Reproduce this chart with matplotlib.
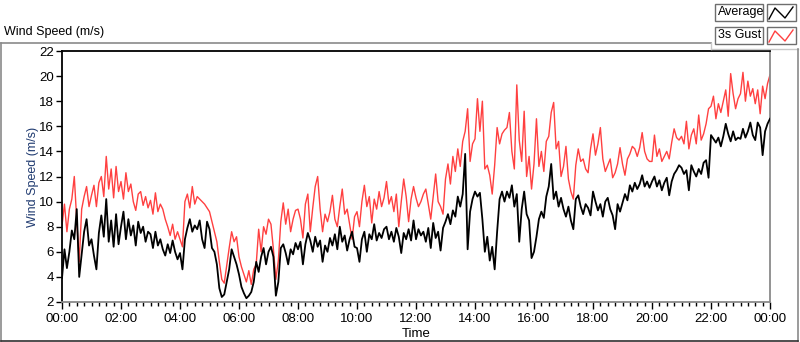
import numpy as np
import matplotlib
matplotlib.use("Agg")
import matplotlib.pyplot as plt
from matplotlib.lines import Line2D
from matplotlib.patches import Rectangle
from matplotlib.ticker import MultipleLocator
from matplotlib import font_manager

# ---------------- data (5-minute samples, 00:00 .. 24:00) ----------------
interval_min = 5

average = [
    # 00h
    3.9, 6.2, 4.7, 6.0, 7.7, 7.0, 9.4, 4.0, 5.8, 7.6, 8.6, 6.5,
    # 01h
    7.0, 5.7, 4.6, 7.5, 8.9, 7.2, 10.2, 6.8, 8.5, 6.4, 9.0, 6.6,
    # 02h
    8.0, 9.2, 7.0, 8.6, 7.3, 8.1, 6.5, 8.4, 7.5, 8.0, 6.8, 7.6,
    # 03h
    7.4, 6.3, 7.6, 6.5, 7.0, 6.2, 5.7, 6.6, 5.9, 6.9, 6.0, 5.4,
    # 04h
    5.9, 4.6, 7.0, 7.9, 8.6, 7.6, 8.1, 7.8, 8.5, 7.0, 6.3, 8.4,
    # 05h
    7.8, 6.3, 6.0, 5.0, 3.1, 2.4, 2.6, 3.6, 4.6, 6.2, 5.6, 5.0,
    # 06h
    4.2, 3.2, 2.7, 2.3, 2.5, 2.8, 3.6, 5.2, 4.4, 5.6, 6.3, 5.0,
    # 07h
    6.0, 6.4, 5.6, 2.5, 3.6, 6.3, 6.6, 5.9, 5.0, 6.2, 5.8, 6.7,
    # 08h
    6.2, 6.8, 5.0, 6.6, 7.5, 6.9, 6.0, 7.2, 6.4, 6.9, 5.2, 6.5,
    # 09h
    6.0, 7.1, 6.5, 7.4, 6.2, 8.0, 6.8, 7.3, 6.1, 7.0, 7.6, 6.4,
    # 10h
    6.3, 5.2, 7.0, 7.6, 6.0, 7.4, 7.0, 8.2, 6.9, 7.5, 7.1, 7.8,
    # 11h
    8.0, 7.0, 7.6, 6.8, 7.9, 7.2, 5.9, 7.5, 7.0, 7.8, 6.9, 8.5,
    # 12h
    7.0, 7.8, 7.3, 7.6, 6.8, 7.9, 6.3, 8.3, 7.1, 7.6, 6.1, 7.9,
    # 13h
    8.4, 9.0, 8.2, 9.3, 8.8, 10.4, 9.6, 10.6, 13.8, 6.2, 9.2, 10.2,
    # 14h
    10.8, 10.4, 10.7, 8.6, 6.0, 7.2, 5.3, 6.4, 4.6, 7.6, 10.2, 10.8,
    # 15h
    10.0, 10.8, 10.3, 11.3, 9.6, 10.6, 6.8, 9.4, 10.8, 9.0, 8.5, 5.5,
    # 16h
    6.0, 7.2, 8.6, 9.2, 8.7, 10.4, 11.2, 13.0, 10.2, 10.8, 9.6, 10.3,
    # 17h
    9.4, 8.8, 9.6, 8.5, 7.8, 10.2, 10.5, 9.6, 9.0, 9.8, 9.5, 8.9,
    # 18h
    10.8, 10.0, 9.3, 9.8, 8.8, 10.0, 10.3, 9.4, 8.9, 7.8, 9.8, 9.2,
    # 19h
    9.9, 10.6, 10.1, 11.3, 10.8, 11.5, 11.0, 11.4, 12.1, 11.2, 11.6, 11.1,
    # 20h
    11.6, 12.0, 11.2, 11.7, 10.9, 11.5, 11.9, 10.5, 11.6, 12.2, 12.5, 12.9,
    # 21h
    12.7, 12.2, 12.5, 10.9, 12.9, 12.4, 12.0, 12.6, 12.2, 13.1, 13.3, 11.9,
    # 22h
    15.3, 15.0, 14.7, 15.1, 14.4, 15.2, 16.2, 15.4, 14.8, 15.6, 14.9, 15.1,
    # 23h
    15.0, 15.8, 15.1, 15.6, 16.3, 15.3, 14.9, 16.3, 15.9, 13.7, 15.6, 16.2,
    # 24:00
    16.6,
]

gust = [
    # 00h
    8.1, 9.8, 7.6, 9.4, 10.2, 12.0, 8.5, 5.2, 9.4, 10.4, 11.2, 9.6,
    # 01h
    10.5, 11.3, 9.6, 11.5, 12.0, 10.4, 13.6, 11.0, 12.6, 10.3, 12.8, 10.8,
    # 02h
    11.6, 10.2, 12.3, 10.8, 11.4, 10.0, 9.3, 10.6, 10.8, 9.7, 10.4, 9.5,
    # 03h
    10.1, 9.0, 10.7, 9.2, 9.8, 9.4, 8.6, 8.0, 7.3, 8.2, 7.0, 7.6,
    # 04h
    7.0, 6.4, 10.0, 10.6, 9.5, 11.2, 9.8, 10.4, 10.2, 10.0, 9.8, 9.5,
    # 05h
    9.2, 8.4, 7.6, 6.8, 5.2, 3.8, 3.5, 4.9, 6.3, 7.6, 6.8, 7.2,
    # 06h
    5.6, 4.8, 4.2, 3.6, 4.5, 3.4, 4.6, 5.0, 7.8, 6.0, 8.0, 7.4,
    # 07h
    8.6, 8.2, 6.2, 3.8, 5.3, 8.4, 9.9, 8.2, 9.4, 7.6, 8.6, 9.3,
    # 08h
    9.4, 8.6, 7.1, 9.8, 10.6, 7.6, 9.5, 11.2, 12.0, 9.4, 7.6, 9.0,
    # 09h
    8.4, 9.2, 10.5, 8.6, 8.0, 9.6, 11.0, 9.0, 9.4, 8.2, 7.0, 8.8,
    # 10h
    9.2, 8.0, 10.0, 11.3, 9.6, 10.4, 8.3, 10.2, 9.4, 10.8, 9.6, 10.3,
    # 11h
    11.6, 9.8, 10.4, 9.2, 10.6, 8.0, 10.0, 11.8, 10.4, 8.4, 10.2, 11.2,
    # 12h
    10.3, 9.6, 10.0, 10.6, 11.0, 9.8, 8.6, 10.4, 12.2, 10.0, 9.6, 9.0,
    # 13h
    11.8, 13.0, 11.4, 13.6, 12.4, 14.2, 12.8, 14.8, 15.6, 17.4, 13.2, 14.6,
    # 14h
    15.0, 18.2, 15.6, 18.0, 12.6, 12.9, 12.1, 10.6, 12.9, 15.9, 14.6, 15.4,
    # 15h
    15.7, 15.9, 17.1, 14.0, 12.6, 19.3, 14.9, 13.2, 17.2, 12.0, 13.6, 11.0,
    # 16h
    13.0, 16.6, 12.8, 14.0, 12.4, 14.8, 15.2, 17.1, 17.9, 14.2, 14.8, 12.0,
    # 17h
    12.8, 14.4, 11.8, 10.8, 10.2, 12.9, 14.2, 13.2, 13.4, 12.6, 12.3, 14.2,
    # 18h
    15.4, 13.7, 14.6, 15.9, 13.4, 12.4, 12.9, 13.4, 11.9, 12.3, 13.0, 14.3,
    # 19h
    13.0, 12.1, 13.4, 13.8, 14.4, 14.2, 13.6, 14.3, 15.5, 14.0, 13.4, 13.2,
    # 20h
    13.2, 15.3, 13.6, 14.2, 13.2, 13.6, 14.0, 13.4, 14.7, 15.8, 15.1, 14.9,
    # 21h
    15.2, 14.6, 16.4, 14.2, 15.3, 15.8, 14.6, 16.9, 14.9, 15.4, 16.2, 17.4,
    # 22h
    17.6, 18.4, 16.6, 17.8, 17.1, 18.0, 18.9, 16.8, 20.2, 18.6, 17.4, 18.2,
    # 23h
    18.6, 20.3, 18.0, 19.6, 18.4, 19.0, 17.8, 18.9, 17.0, 19.2, 18.2, 19.4,
    # 24:00
    20.1,
]

series_names = ["Average", "3s Gust"]
y_ticks = [2, 4, 6, 8, 10, 12, 14, 16, 18, 20, 22]
x_tick_labels = ["00:00", "02:00", "04:00", "06:00", "08:00", "10:00", "12:00",
                 "14:00", "16:00", "18:00", "20:00", "22:00", "00:00"]

minutes = np.arange(len(average)) * interval_min

# ---------------- fonts ----------------
avail = {f.name for f in font_manager.fontManager.ttflist}
narrow = "Liberation Sans Narrow" if "Liberation Sans Narrow" in avail else "Liberation Sans"
plt.rcParams["font.family"] = ["Liberation Sans", "DejaVu Sans"]

W, H = 800, 342
fig = plt.figure(figsize=(W / 100, H / 100), dpi=100)


def fx(x):
    return x / W


def fy(y):
    return 1 - y / H


# outer frame
frame_col = "#8a8a8a"
fig.add_artist(Line2D([fx(0.5), fx(711)], [fy(42.5), fy(42.5)], color=frame_col, lw=1.2))
fig.add_artist(Line2D([fx(711), fx(711)], [fy(42.5), fy(48.5)], color="#c8c8c8", lw=1.0))
fig.add_artist(Line2D([fx(711), fx(797.5)], [fy(48.5), fy(48.5)], color="#c8c8c8", lw=1.0))
fig.add_artist(Line2D([fx(0.5), fx(0.5)], [fy(42.5), fy(341)], color=frame_col, lw=1.2))
fig.add_artist(Line2D([fx(797.5), fx(797.5)], [fy(48.5), fy(341)], color=frame_col, lw=1.2))
fig.add_artist(Line2D([fx(0.5), fx(797.5)], [fy(340.5), fy(340.5)], color="#303030", lw=1.2))

# title
fig.text(fx(4), fy(32), "Wind Speed (m/s)", fontsize=9, va="center", ha="left",
         color="#000000")

# plot area
ax = fig.add_axes([fx(62), fy(302), fx(770) - fx(62), fy(51) - fy(302)])
ax.plot(minutes, gust, color="#ff4040", lw=1.0, zorder=2)
ax.plot(minutes, average, color="#000000", lw=1.3, zorder=3)
ax.set_xlim(0, 1440)
ax.set_ylim(2, 22)

ax.set_yticks(y_ticks)
ax.set_xticks(np.arange(0, 1441, 120))
ax.set_xticklabels(x_tick_labels)
ax.xaxis.set_minor_locator(MultipleLocator(15))
ax.tick_params(axis="y", which="major", direction="out", length=4, width=1, pad=2,
               labelsize=9.5, colors="#000000")
ax.tick_params(axis="x", which="major", direction="out", length=5, width=1, pad=3,
               labelsize=9.5)
ax.tick_params(axis="x", which="minor", direction="out", length=3, width=1)
for lab in ax.get_xticklabels() + ax.get_yticklabels():
    lab.set_fontfamily([narrow, "DejaVu Sans"])

for side in ("top", "left"):
    ax.spines[side].set_color("#000000")
    ax.spines[side].set_linewidth(1.3)
for side in ("right", "bottom"):
    ax.spines[side].set_color("#8a8a8a")
    ax.spines[side].set_linewidth(1.3)

ax.set_ylabel("Wind Speed (m/s)", fontsize=9, color="#1f3a70", labelpad=0)
ax.set_xlabel("Time", fontsize=9.5, labelpad=2)
ax.xaxis.label.set_fontfamily([narrow, "DejaVu Sans"])

# legend (LabVIEW style plot legend)
legend_rows = [(4, "#000000"), (27, "#ff4040")]
for (top, col), name in zip(legend_rows, series_names):
    fig.add_artist(Rectangle((fx(715), fy(top + 17)), fx(763) - fx(715), fy(top) - fy(top + 17),
                             facecolor="white", edgecolor="#6e6e6e", lw=1.0))
    fig.text(fx(718), fy(top + 8.5), name, fontsize=9, va="center", ha="left")
    fig.add_artist(Rectangle((fx(767), fy(top + 17)), fx(796) - fx(767), fy(top) - fy(top + 17),
                             facecolor="white", edgecolor="#6e6e6e", lw=1.0))
    zx = [769, 775, 785, 793]
    zy = [top + 15, top + 4, top + 14, top + 3]
    fig.add_artist(Line2D([fx(v) for v in zx], [fy(v) for v in zy], color=col, lw=1.0))

fig.savefig("out.png", dpi=100)
